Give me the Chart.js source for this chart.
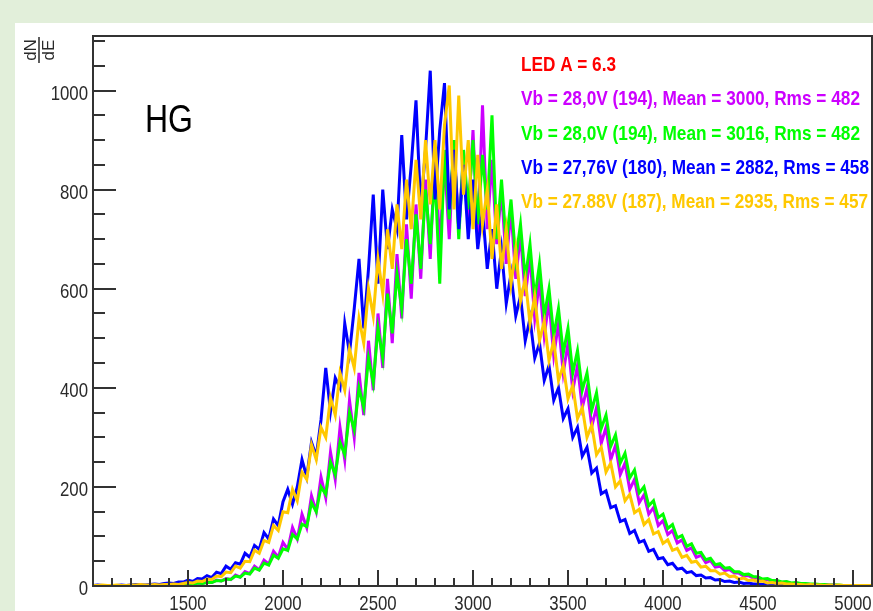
<!DOCTYPE html>
<html lang="en">
<head>
    <meta charset="UTF-8">
    <title>HG spectra - LED A = 6.3</title>
    <script src="https://cdn.jsdelivr.net/npm/chart.js"></script>
    <style>
        html, body {
            margin: 0;
            padding: 0;
            background: #e2efda;
        }
        canvas {
            display: block;
        }
    </style>
</head>
<body>

<canvas id="spectrum" width="873" height="611"></canvas>

<script>
    // histogram binning (ADC counts)
    const binStart = 1000;
    const binWidth = 25;

    // counts per bin, one array per bias voltage
    const magentaCounts = [
        0,1,0,0, 1,0,1,0, 1,1,2,1, 1,2,1,2, 2,3,2,3,
        5,4,6,5, 8,7,12,10, 15,13,22,18, 29,25,40,33, 52,44,70,58,
        88,74,118,95, 145,118,182,150, 220,178,270,215, 320,255,375,300, 430,345,495,395,
        550,440,620,490, 670,540,730,580, 770,620,820,660, 880,680,860,700, 900,720,870,740,
        920,700,970,720, 860,690,800,650, 760,620,710,585, 665,540,615,505, 575,465,530,430,
        490,395,445,360, 400,322,360,288, 320,255,284,225, 248,195,215,168, 184,145,158,122,
        132,104,112,87, 93,72,77,58, 62,47,51,38, 40,31,33,26, 26,20,21,16,
        16,12,13,9, 10,7,8,5, 5,4,4,3, 3,2,3,2, 2,1,1,1,
        1,1,0,1, 0
    ];
    const greenCounts = [
        0,1,0,1, 1,0,1,1, 1,2,1,1, 1,2,2,1, 2,3,2,3,
        4,3,6,5, 7,7,11,10, 14,13,20,18, 26,24,36,32, 46,42,62,56,
        75,72,104,95, 125,120,168,150, 200,185,250,225, 290,265,350,315, 400,360,460,410,
        520,460,590,510, 630,560,700,610, 750,640,800,690, 830,610,880,740, 900,700,880,760,
        900,730,870,760, 950,700,820,690, 780,660,730,620, 690,580,650,545, 600,505,560,470,
        520,430,475,395, 430,355,390,318, 345,282,305,248, 268,218,234,188, 200,162,172,138,
        145,116,124,97, 102,80,85,66, 68,53,56,43, 45,36,37,29, 29,23,24,19,
        18,14,15,11, 11,8,9,6, 7,5,5,4, 4,3,3,2, 2,2,1,1,
        1,1,1,1, 1
    ];
    const blueCounts = [
        1,2,1,1, 1,1,2,1, 2,3,2,2, 3,4,3,5, 6,5,8,8,
        12,9,15,14, 21,17,28,25, 40,34,47,44, 66,58,82,74, 108,95,135,122,
        170,195,165,200, 255,220,290,262, 335,440,352,420, 400,530,470,560, 660,520,640,790,
        610,800,680,760, 720,910,740,850, 980,760,880,1040, 780,920,1015,760, 880,720,850,700,
        820,680,760,640, 720,600,680,570, 630,545,585,495, 540,460,490,415, 445,375,400,338,
        358,300,320,262, 280,228,238,186, 192,158,162,130, 134,106,112,88, 92,70,74,55,
        57,43,46,34, 36,27,29,21, 22,16,17,12, 13,9,10,7, 8,5,6,4,
        4,3,3,2, 2,1,2,1, 1,1,1,0, 1,0,1,0, 0,0,1,0,
        0,0,0,0, 0
    ];
    const orangeCounts = [
        1,1,2,1, 1,2,1,1, 2,2,3,2, 2,3,2,3, 3,4,3,5,
        7,6,10,9, 14,13,20,19, 28,27,40,36, 50,49,72,66, 92,88,122,112,
        150,148,195,172, 230,215,285,255, 320,300,380,345, 430,395,478,440, 540,490,600,545,
        660,590,720,640, 770,680,820,720, 860,740,900,770, 900,760,930,1010, 760,990,790,900,
        720,870,730,800, 660,770,640,720, 610,680,575,620, 530,585,495,535, 455,495,415,445,
        378,405,338,360, 300,325,265,280, 230,248,200,212, 172,185,148,155, 124,134,105,110,
        86,93,72,76, 58,62,48,50, 38,40,31,31, 24,26,19,20, 14,16,11,12,
        9,10,6,7, 5,6,4,4, 3,3,2,3, 2,2,1,2, 1,2,1,1,
        1,1,1,1, 1
    ];

    const xTickLabels = [1500, 2000, 2500, 3000, 3500, 4000, 4500, 5000];
    const yTickLabels = [0, 200, 400, 600, 800, 1000];

    const legendTexts = [
        "LED A = 6.3",
        "Vb = 28,0V (194), Mean = 3000, Rms = 482",
        "Vb = 28,0V (194), Mean = 3016, Rms = 482",
        "Vb = 27,76V (180), Mean = 2882, Rms = 458",
        "Vb = 27.88V (187), Mean = 2935, Rms = 457"
    ];
    const legendColors = ["#ff0000", "#cc00ff", "#00ff00", "#0000ff", "#ffc800"];

    const energy = magentaCounts.map((_, i) => binStart + i * binWidth);
    const toPoints = counts => counts.map((c, i) => ({ x: energy[i], y: c }));

    // text in the source image is squeezed horizontally, so draw it narrower
    function squeezed(ctx, text, x, y, font, color, align, sx) {
        ctx.save();
        ctx.translate(x, y);
        ctx.scale(sx, 1);
        ctx.font = font;
        ctx.fillStyle = color;
        ctx.textAlign = align;
        ctx.textBaseline = "alphabetic";
        ctx.fillText(text, 0, 0);
        ctx.restore();
    }

    // ROOT-like frame: inward ticks, labels, title and the text box
    const rootStyle = {
        id: "rootStyle",
        beforeDraw(chart) {
            const ctx = chart.ctx;
            ctx.save();
            ctx.fillStyle = "#e2efda";
            ctx.fillRect(0, 0, chart.width, chart.height);
            ctx.fillStyle = "#ffffff";
            ctx.fillRect(15, 23, chart.width - 15, chart.height - 23);
            ctx.restore();
        },
        afterDatasetsDraw(chart) {
            const ctx = chart.ctx;
            const area = chart.chartArea;
            const xs = chart.scales.x;
            const ys = chart.scales.y;

            ctx.save();
            ctx.strokeStyle = "#333333";
            ctx.lineWidth = 2;
            ctx.strokeRect(area.left, area.top, area.right - area.left, area.bottom - area.top);

            ctx.beginPath();
            for (let v = 1000; v <= 5100; v += 100) {
                const px = Math.round(xs.getPixelForValue(v));
                const len = v % 500 === 0 ? 16 : 8;
                ctx.moveTo(px, area.bottom);
                ctx.lineTo(px, area.bottom - len);
            }
            for (let v = 0; v <= 1100; v += 50) {
                const py = Math.round(ys.getPixelForValue(v));
                const len = v % 200 === 0 ? 23 : 12;
                ctx.moveTo(area.left, py);
                ctx.lineTo(area.left + len, py);
            }
            ctx.stroke();

            const tickFont = "21px 'Liberation Sans', Arial, sans-serif";
            xTickLabels.forEach(v => {
                squeezed(ctx, String(v), xs.getPixelForValue(v), 610, tickFont, "#2a2a2a", "center", 0.8);
            });
            yTickLabels.forEach(v => {
                squeezed(ctx, String(v), 88, ys.getPixelForValue(v) + 9, tickFont, "#2a2a2a", "right", 0.8);
            });

            // dN/dE, rotated
            ctx.save();
            ctx.translate(39, 50);
            ctx.rotate(-Math.PI / 2);
            ctx.fillStyle = "#2a2a2a";
            ctx.font = "17px 'Liberation Sans', Arial, sans-serif";
            ctx.textAlign = "center";
            ctx.textBaseline = "alphabetic";
            ctx.fillText("dN", 0, -3);
            ctx.fillText("dE", 0, 15);
            ctx.strokeStyle = "#2a2a2a";
            ctx.lineWidth = 1.5;
            ctx.beginPath();
            ctx.moveTo(-13, 0);
            ctx.lineTo(13, 0);
            ctx.stroke();
            ctx.restore();

            ctx.fillStyle = "#000000";
            ctx.font = "39px 'Liberation Sans', Arial, sans-serif";
            ctx.textAlign = "left";
            ctx.fillText("HG", 145, 132, 48);

            const baselines = [71, 105, 140, 174, 208];
            const widths = [95, 339, 339, 348, 347];
            ctx.font = "bold 21px 'Liberation Sans', Arial, sans-serif";
            legendTexts.forEach((t, i) => {
                ctx.fillStyle = legendColors[i];
                ctx.fillText(t, 521, baselines[i], widths[i]);
            });
            ctx.restore();
        }
    };

    function line(counts, color, order) {
        return {
            data: toPoints(counts),
            borderColor: color,
            borderWidth: 3,
            pointRadius: 0,
            tension: 0,
            order: order
        };
    }

    new Chart(document.getElementById("spectrum"), {
        type: "line",
        data: {
            datasets: [
                line(magentaCounts, legendColors[1], 3),
                line(greenCounts, legendColors[2], 2),
                line(blueCounts, legendColors[3], 1),
                line(orangeCounts, legendColors[4], 0)
            ]
        },
        options: {
            responsive: false,
            animation: false,
            devicePixelRatio: 1,
            events: [],
            layout: { padding: { left: 93, top: 36, right: 1, bottom: 25 } },
            scales: {
                x: { type: "linear", min: 1000, max: 5100, display: false },
                y: { min: 0, max: 1110, display: false }
            },
            plugins: {
                legend: { display: false },
                tooltip: { enabled: false }
            }
        },
        plugins: [rootStyle]
    });
</script>

</body>
</html>
